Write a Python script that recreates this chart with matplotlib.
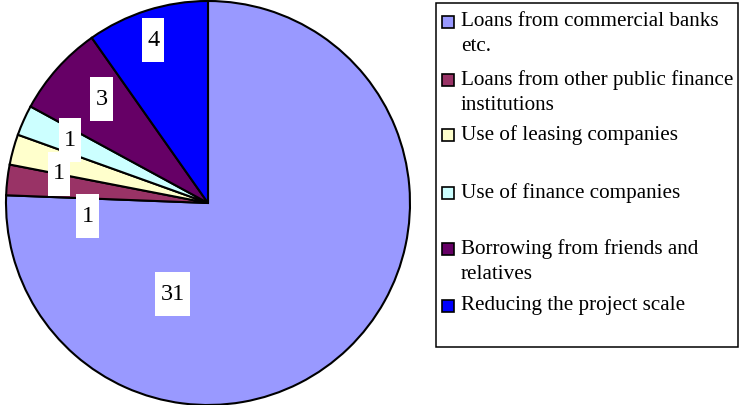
import numpy as np
import matplotlib
matplotlib.use('Agg')
import matplotlib.pyplot as plt
from matplotlib.patches import Rectangle

plt.rcParams['font.family'] = ['Liberation Serif', 'DejaVu Serif']

# data
categories = ['Loans from commercial banks\netc.',
              'Loans from other public finance\ninstitutions',
              'Use of leasing companies',
              'Use of finance companies',
              'Borrowing from friends and\nrelatives',
              'Reducing the project scale']
values = [31, 1, 1, 1, 3, 4]
colors = ['#9999FF', '#993366', '#FFFFCC', '#CCFFFF', '#660066', '#0000FF']

# label placement (angle in deg, radius fraction) - moved like the original
label_pos = [(248.8, 0.485), (186.3, 0.60), (168.8, 0.75),
             (155.5, 0.75), (135.8, 0.735), (108.6, 0.85)]

W, H = 740, 405
fig = plt.figure(figsize=(W / 100, H / 100), dpi=100)

# pie centre (208, 203) px, radius 202 px
cx, cy, r = 208, 203, 202
ax = fig.add_axes([(cx - r) / W, (H - cy - r) / H, 2 * r / W, 2 * r / H])
wedges, _ = ax.pie(values, colors=colors, startangle=90, counterclock=False,
                   wedgeprops=dict(edgecolor='black', linewidth=1.5))
for w in wedges:
    w.set_clip_on(False)
ax.set_xlim(-1, 1)
ax.set_ylim(-1, 1)
ax.set_aspect('equal')
ax.axis('off')

px = 2.0 / (2 * r)  # data units per pixel
renderer = fig.canvas.get_renderer()
for v, (ang, rf) in zip(values, label_pos):
    a = np.deg2rad(ang)
    x, y = rf * np.cos(a), rf * np.sin(a)
    t = ax.text(x, y, str(v), fontsize=17.5, ha='center', va='center', zorder=5)
    bb = t.get_window_extent(renderer)
    bw = bb.width + 10
    bh = 44
    ax.add_patch(Rectangle((x - bw / 2 * px, y - bh / 2 * px), bw * px, bh * px,
                           facecolor='white', edgecolor='none', zorder=4))

# legend drawn by hand to keep Excel-like spacing
lax = fig.add_axes([0, 0, 1, 1])
lax.set_xlim(0, W)
lax.set_ylim(H, 0)
lax.axis('off')
lax.add_patch(Rectangle((436, 3), 302, 344, facecolor='white', edgecolor='black', linewidth=1.1))
marker_y = [22, 80, 135, 193, 249, 306]
for lab, col, my in zip(categories, colors, marker_y):
    lax.add_patch(Rectangle((442, my - 6), 12, 12, facecolor=col, edgecolor='black', linewidth=1.2))
    lax.text(461, my - 10, lab, fontsize=15.2, ha='left', va='top', linespacing=1.42)

fig.savefig('out.png', dpi=100)
